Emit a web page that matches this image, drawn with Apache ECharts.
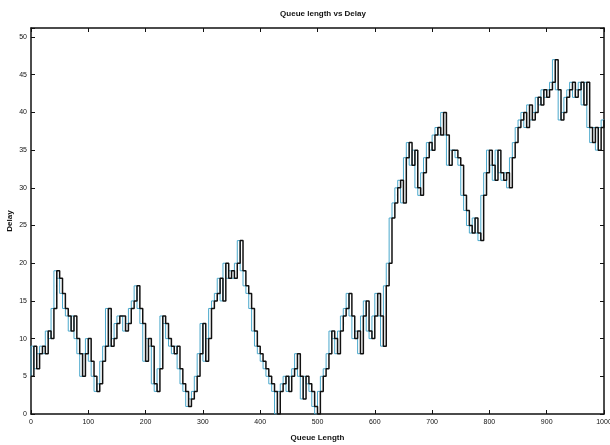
<!DOCTYPE html>
<html>
<head>
<meta charset="utf-8">
<script src="https://cdn.jsdelivr.net/npm/echarts@6/dist/echarts.min.js"></script>
<style>
html,body{margin:0;padding:0;background:#fff;}
#chart{width:610px;height:445px;}
</style>
</head>
<body>
<div id="chart"></div>
<script>
const chartTitle = 'Queue length vs Delay';
const xName = 'Queue Length';
const yName = 'Delay';
const xTicks = [0,100,200,300,400,500,600,700,800,900,1000];
const yTicks = [0,5,10,15,20,25,30,35,40,45,50];
const queueStep = 5;
const delay = [
  5,9,6,8,9,8,11,10,14,19,18,16,14,13,11,13,10,8,5,8,
  10,7,5,3,4,7,9,14,9,10,12,13,13,11,12,14,15,17,14,12,
  7,10,9,4,3,6,13,12,10,9,8,9,6,4,3,1,2,3,5,8,
  12,7,10,14,15,16,18,15,20,18,19,18,20,23,19,17,16,14,11,9,
  8,7,6,5,4,3,0,3,4,5,3,5,6,8,5,2,5,4,3,1,
  0,3,5,6,8,11,10,8,11,13,14,16,13,10,11,8,13,15,11,10,
  13,16,13,9,17,20,26,28,30,31,28,34,36,33,35,30,29,32,34,36,
  35,37,38,37,40,37,33,35,35,34,33,29,27,25,24,26,24,23,29,32,
  35,33,31,35,32,31,32,30,34,36,38,39,40,38,41,39,40,42,41,43,
  42,43,44,47,43,39,40,42,43,44,42,43,44,41,44,38,36,38,35,38,
  39
];
const queueLength = delay.map((_, i) => i * queueStep);
const points = queueLength.map((x, i) => [x, delay[i]]);

const chart = echarts.init(document.getElementById('chart'), null, {renderer: 'canvas'});
const font = 'Liberation Sans, Arial, sans-serif';
const axisBase = {
  axisLine: {show: true, onZero: false, lineStyle: {color: '#111', width: 1.5}},
  axisTick: {show: true, inside: true, length: 4, lineStyle: {color: '#111', width: 1}},
  splitLine: {show: false}
};
chart.setOption({
  animation: false,
  backgroundColor: '#fff',
  title: {
    text: chartTitle, left: 318, top: 5, textAlign: 'center',
    textStyle: {fontFamily: font, fontSize: 8, fontWeight: 'bold', color: '#111'}
  },
  grid: {left: 31, right: 6, top: 28, bottom: 31, containLabel: false, outerBoundsMode: 'none'},
  xAxis: [
    Object.assign({}, axisBase, {
      type: 'value', min: xTicks[0], max: xTicks[xTicks.length-1], interval: 100, position: 'bottom',
      name: xName, nameLocation: 'middle', nameGap: 20, nameMoveOverlap: false,
      nameTextStyle: {fontFamily: font, fontSize: 8, fontWeight: 'bold', color: '#111'},
      axisLabel: {fontFamily: font, fontSize: 7, color: '#111', margin: 5,
        formatter: v => String(v)}
    }),
    Object.assign({}, axisBase, {
      type: 'value', min: xTicks[0], max: xTicks[xTicks.length-1], interval: 100, position: 'top',
      axisLabel: {show: false}
    })
  ],
  yAxis: [
    Object.assign({}, axisBase, {
      type: 'value', min: 0, max: 51.2, interval: 5, position: 'left',
      name: yName, nameLocation: 'middle', nameGap: 17, nameRotate: 90, nameMoveOverlap: false,
      nameTextStyle: {fontFamily: font, fontSize: 8, fontWeight: 'bold', color: '#111'},
      axisLabel: {fontFamily: font, fontSize: 7, color: '#111', margin: 4,
        formatter: v => yTicks.indexOf(v) >= 0 ? String(v) : ''}
    }),
    Object.assign({}, axisBase, {
      type: 'value', min: 0, max: 51.2, interval: 5, position: 'right',
      axisLabel: {show: false}
    })
  ],
  series: [
    {
      type: 'line', data: points, step: 'start', symbol: 'none',
      lineStyle: {color: '#4aa8cc', width: 1}, z: 2
    },
    {
      type: 'line', data: points, step: 'end', symbol: 'none',
      lineStyle: {color: '#111', width: 1.5}, z: 3
    }
  ]
});
</script>
</body>
</html>
